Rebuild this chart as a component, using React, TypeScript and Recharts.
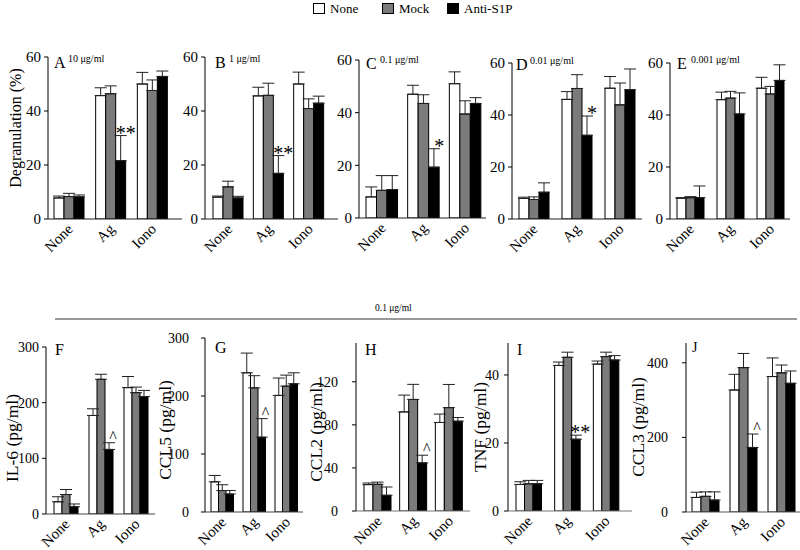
import React from "react";
import { BarChart, Bar, XAxis, YAxis, ErrorBar, LabelList } from "recharts";

const SERIF = "Liberation Serif, Times New Roman, serif";

const categories = ["None", "Ag", "Iono"];
const seriesNames = ["None", "Mock", "Anti-S1P"];
const seriesFill = ["#ffffff", "#7b7b7b", "#000000"];

// rows: None / Ag / Iono, columns: None / Mock / Anti-S1P
// degranulation (%) at each anti-S1P dose
const degA = [[7.8, 8.3, 8.2], [45.7, 46.4, 21.6], [50, 47.6, 52.8]];
const errA = [[0.7, 1.2, 0.7], [2.9, 2.9, 9.3], [4.3, 3.9, 2.0]];
const degB = [[8.1, 11.9, 7.8], [45.6, 45.8, 16.9], [50, 40.9, 42.9]];
const errB = [[0.4, 2.1, 0.6], [3.2, 4.5, 6.6], [4.4, 3.6, 2.6]];
const degC = [[8, 10.5, 10.8], [47, 43.5, 19.3], [51, 39.5, 43.5]];
const errC = [[3.8, 5.6, 5.3], [3.4, 3.3, 7], [4.5, 5, 2.2]];
const degD = [[7.9, 7.5, 10.3], [46, 50.2, 32.2], [50.3, 43.9, 49.7]];
const errD = [[0.5, 1, 3.6], [3, 5.3, 7.4], [4.5, 8.4, 8]];
const degE = [[8, 8.2, 8.2], [45.9, 46.5, 40.4], [50.3, 48.1, 53.3]];
const errE = [[0.2, 0.4, 4.5], [2.9, 2.6, 8.1], [4.2, 2.9, 6]];

// cytokines (pg/ml), 0.1 μg/ml
const il6 = [[22, 35, 13], [177, 242, 116], [227, 218, 211]];
const il6Err = [[9, 9, 5], [12, 9, 12], [20, 10, 11]];
const ccl5 = [[52, 37, 31], [240, 214, 129], [201, 217, 221]];
const ccl5Err = [[11, 10, 6], [34, 21, 32], [30, 19, 19]];
const ccl2 = [[24.5, 24.8, 14.6], [92, 103.6, 44.7], [82.2, 96, 83.4]];
const ccl2Err = [[1.5, 2, 7.7], [15.6, 14, 7.1], [7.8, 21.5, 3.4]];
const tnf = [[7.8, 8, 8], [42.8, 45.2, 21.1], [43.2, 45.4, 44.4]];
const tnfErr = [[0.8, 1, 1], [1, 1.5, 1.2], [0.9, 1.3, 1.3]];
const ccl3 = [[39, 42, 32], [327, 387, 173], [363, 373, 345]];
const ccl3Err = [[14, 12, 22], [42, 38, 36], [50, 21, 33]];

const marksTwo = ["", "**", ""];
const marksOne = ["", "*", ""];
const marksCaret = ["", "^", ""];
const marksNone = ["", "", ""];

const degTicks = [0, 20, 40, 60];

type PanelDef = {
  letter: string;
  note?: string;
  mean: number[][];
  err: number[][];
  marks: string[];
  max: number;
  ticks: number[];
  axisX: number;
  top: number;
  bottom: number;
  axisEnd: number;
  bandStart: number;
  bandEnd: number;
  barSize: number;
  tickGap: number;
  tickFont: number;
  letterDx: number;
  letterY: number;
  xColor: string;
};

const panels: PanelDef[] = [
  { letter: "A", note: "10 μg/ml", mean: degA, err: errA, marks: marksTwo, max: 60, ticks: degTicks,
    axisX: 48, top: 57, bottom: 219, axisEnd: 182, bandStart: 48, bandEnd: 173, barSize: 10, tickGap: 3, tickFont: 15, letterDx: 6, letterY: 68, xColor: "#222" },
  { letter: "B", note: "1 μg/ml", mean: degB, err: errB, marks: marksTwo, max: 60, ticks: degTicks,
    axisX: 205, top: 57, bottom: 219, axisEnd: 338, bandStart: 208, bandEnd: 329, barSize: 10, tickGap: 3, tickFont: 15, letterDx: 10, letterY: 68, xColor: "#222" },
  { letter: "C", note: "0.1 μg/ml", mean: degC, err: errC, marks: marksOne, max: 60, ticks: degTicks,
    axisX: 359, top: 60, bottom: 218, axisEnd: 486, bandStart: 361, bandEnd: 486, barSize: 10.5, tickGap: 3, tickFont: 15, letterDx: 7, letterY: 69, xColor: "#222" },
  { letter: "D", note: "0.01 μg/ml", mean: degD, err: errD, marks: marksOne, max: 60, ticks: degTicks,
    axisX: 512, top: 63, bottom: 219, axisEnd: 642, bandStart: 512, bandEnd: 641, barSize: 10, tickGap: 3, tickFont: 15, letterDx: 4, letterY: 70, xColor: "#222" },
  { letter: "E", note: "0.001 μg/ml", mean: degE, err: errE, marks: marksNone, max: 60, ticks: degTicks,
    axisX: 670, top: 63, bottom: 219, axisEnd: 790, bandStart: 670, bandEnd: 790, barSize: 9, tickGap: 3, tickFont: 15, letterDx: 7, letterY: 69, xColor: "#222" },
  { letter: "F", mean: il6, err: il6Err, marks: marksCaret, max: 300, ticks: [0, 100, 200, 300],
    axisX: 46, top: 347, bottom: 514, axisEnd: 155, bandStart: 48, bandEnd: 153, barSize: 8, tickGap: 3, tickFont: 14, letterDx: 9, letterY: 355, xColor: "#444" },
  { letter: "G", mean: ccl5, err: ccl5Err, marks: marksCaret, max: 300, ticks: [0, 100, 200, 300],
    axisX: 205, top: 338, bottom: 512, axisEnd: 303, bandStart: 206, bandEnd: 302, barSize: 7.5, tickGap: 12, tickFont: 14, letterDx: 10, letterY: 353, xColor: "#444" },
  { letter: "H", mean: ccl2, err: ccl2Err, marks: marksCaret, max: 156, ticks: [0, 40, 80, 120],
    axisX: 356, top: 343, bottom: 511, axisEnd: 470, bandStart: 360, bandEnd: 467, barSize: 9, tickGap: 14, tickFont: 14, letterDx: 9, letterY: 355, xColor: "#777" },
  { letter: "I", mean: tnf, err: tnfErr, marks: marksTwo, max: 49.4, ticks: [0, 20, 40],
    axisX: 508, top: 343, bottom: 511, axisEnd: 632, bandStart: 509, bandEnd: 625, barSize: 8.5, tickGap: 5, tickFont: 14, letterDx: 9, letterY: 355, xColor: "#777" },
  { letter: "J", mean: ccl3, err: ccl3Err, marks: marksCaret, max: 453, ticks: [0, 200, 400],
    axisX: 686, top: 343, bottom: 512, axisEnd: 800, bandStart: 686, bandEnd: 800, barSize: 9, tickGap: 14, tickFont: 14, letterDx: 6, letterY: 352, xColor: "#555" },
];

const axisTitles = [
  { text: "Degranulation (%)", x: 15, y: 128, size: 16 },
  { text: "IL-6 (pg/ml)", x: 12, y: 438, size: 17.5 },
  { text: "CCL5 (pg/ml)", x: 165, y: 430, size: 17.5 },
  { text: "CCL2 (pg/ml)", x: 316, y: 432, size: 17.5 },
  { text: "TNF (pg/ml)", x: 480, y: 427, size: 17.5 },
  { text: "CCL3 (pg/ml)", x: 638, y: 427, size: 17.5 },
];

const Y_W = 60;
const M_TOP = 12;
const X_H = 45;

function CatTick(props: any) {
  const { x, y, payload } = props;
  const tx = x + 5;
  const ty = y + 9;
  return (
    <text x={tx} y={ty} transform={`rotate(-45 ${tx} ${ty})`} textAnchor="end"
      fontSize={15} fontFamily={SERIF} fill="#000">
      {payload.value}
    </text>
  );
}

function Panel({ p }: { p: PanelDef }) {
  const data = categories.map((cat, i) => ({
    cat,
    v0: p.mean[i][0], v1: p.mean[i][1], v2: p.mean[i][2],
    e0: [0, p.err[i][0]], e1: [0, p.err[i][1]], e2: [0, p.err[i][2]],
    mark: p.marks[i],
  }));
  const left = p.axisX - Y_W;
  const width = p.axisEnd - left;
  const height = p.bottom - p.top + M_TOP + X_H;

  const markLabel = (props: any) => {
    const { x, y, width: w, height: h, value, index } = props;
    if (!value) return null;
    const i = typeof index === "number" ? index : 1;
    const unit = h / p.mean[i][2];
    const yTop = y - p.err[i][2] * unit;
    const star = String(value).includes("*");
    return (
      <text x={x + w} y={star ? yTop + 4 : yTop - 1} textAnchor="middle"
        fontSize={star ? 20 : 16} fontFamily={SERIF} fill="#000">
        {value}
      </text>
    );
  };

  return (
    <div style={{ position: "absolute", left, top: p.top - M_TOP }}>
      <BarChart width={width} height={height} data={data}
        margin={{ top: M_TOP, right: 0, bottom: 0, left: 0 }}
        barGap={0} barSize={p.barSize}>
        <XAxis dataKey="cat" height={X_H} tickLine={false} tickSize={0} interval={0}
          tick={<CatTick />} stroke={p.xColor}
          padding={{ left: p.bandStart - p.axisX, right: p.axisEnd - p.bandEnd }} />
        <YAxis width={Y_W} domain={[0, p.max]} ticks={p.ticks} interval={0}
          tickSize={4} tickMargin={p.tickGap} stroke="#000" allowDataOverflow
          tick={{ fill: "#000", fontSize: p.tickFont, fontFamily: SERIF }} />
        {seriesNames.map((name, k) => (
          <Bar key={name} name={name} dataKey={`v${k}`} fill={seriesFill[k]}
            stroke="#000" strokeWidth={1} isAnimationActive={false}>
            <ErrorBar dataKey={`e${k}`} width={6} stroke="#222" strokeWidth={1}
              isAnimationActive={false} />
            {k === 2 && <LabelList dataKey="mark" content={markLabel} />}
          </Bar>
        ))}
      </BarChart>
    </div>
  );
}

function Legend() {
  const lefts = [313, 382, 447];
  return (
    <>
      {seriesNames.map((name, k) => (
        <div key={name} style={{ position: "absolute", left: lefts[k], top: 2, display: "flex",
          alignItems: "center", fontSize: 13, lineHeight: "13px" }}>
          <span style={{ display: "inline-block", width: 10, height: 9, background: seriesFill[k],
            border: "1px solid #000", marginRight: 5 }} />
          <span>{name}</span>
        </div>
      ))}
    </>
  );
}

export default function App() {
  return (
    <div style={{ position: "absolute", left: 0, top: 0, width: 800, height: 550, background: "#fff",
      overflow: "hidden", fontFamily: SERIF }}>
      <Legend />
      {panels.map((p) => <Panel key={p.letter} p={p} />)}
      <svg width={800} height={550} style={{ position: "absolute", left: 0, top: 0, pointerEvents: "none" }}>
        {panels.map((p) => (
          <g key={p.letter} fill="#000" fontFamily={SERIF}>
            <text x={p.axisX + p.letterDx} y={p.letterY} fontSize={p.letter === "J" ? 14 : 16}>{p.letter}</text>
            {p.note && (
              <text x={p.axisX + p.letterDx + 14} y={p.letterY - 6} fontSize={10}>{p.note}</text>
            )}
          </g>
        ))}
        {axisTitles.map((t) => (
          <text key={t.text} x={t.x} y={t.y} transform={`rotate(-90 ${t.x} ${t.y})`}
            textAnchor="middle" dominantBaseline="central" fontSize={t.size} fontFamily={SERIF} fill="#000">
            {t.text}
          </text>
        ))}
        <line x1={55} x2={797} y1={319} y2={319} stroke="#9a9a9a" strokeWidth={2} />
        <text x={375} y={311} fontSize={9.5} fontFamily={SERIF} fill="#000">0.1 μg/ml</text>
      </svg>
    </div>
  );
}
